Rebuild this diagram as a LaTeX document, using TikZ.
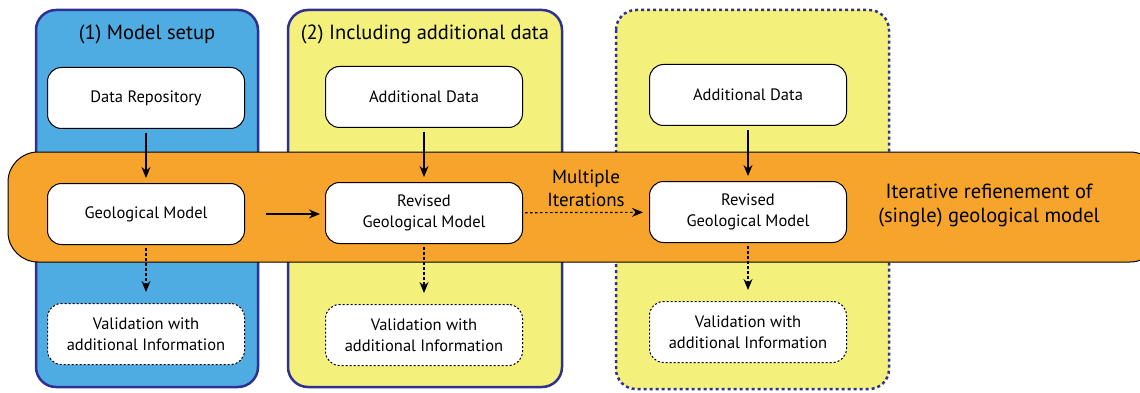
\documentclass[tikz,border=0pt]{standalone}
\usepackage{fontspec}
\setmainfont{PT Sans}
\usetikzlibrary{arrows.meta}
\definecolor{cblue}{HTML}{4EACE2}
\definecolor{cnavy}{HTML}{2E3192}
\definecolor{cyel}{HTML}{F3F07C}
\definecolor{corange}{HTML}{F6A42C}
\tikzset{
  colbox/.style={draw=cnavy, line width=2.5pt, rounded corners=20pt},
  band/.style={draw=black, line width=1pt, fill=corange, rounded corners=30pt},
  box/.style={draw=black, line width=1pt, fill=white, rounded corners=14pt,
    minimum width=197pt, minimum height=61pt, align=center, font=\fontsize{16.5}{21}\selectfont},
  dbox/.style={box, dash pattern=on 2pt off 2pt},
  arr/.style={line width=1.2pt, arrows={-{Stealth[length=11pt,width=9pt]}}},
  darr/.style={arr, dash pattern=on 2.5pt off 2.5pt},
  title/.style={font=\fontsize{20.5}{24}\selectfont},
}
\begin{document}
\begin{tikzpicture}[x=1pt,y=-1pt]
\useasboundingbox (0,0) rectangle (1140,393);
% column boxes
\draw[colbox, fill=cblue] (36,10) rectangle (258,387);
\draw[colbox, fill=cyel] (288,10) rectangle (562,387);
\draw[colbox, fill=cyel, dash pattern=on 3pt off 3pt] (616,10) rectangle (889,389);
\node[title] (t1) at (147,34) {(1) Model setup};
\node[title] (t2) at (425,34) {(2) Including additional data};
% band
\draw[band] (8,152) rectangle (1160,262);
\node[font=\fontsize{20.5}{24}\selectfont, align=center] (iter) at (989,205) {Iterative refienement of\\(single) geological model};
% nodes
\node[box] (dr) at (146,98) {Data Repository};
\node[box] (gm) at (146,214) {Geological Model};
\node[dbox] (v1) at (146,334) {Validation with\\additional Information};
\node[box] (ad2) at (424,97) {Additional Data};
\node[box] (rg2) at (424,213) {Revised\\Geological Model};
\node[dbox] (v2) at (424,335) {Validation with\\additional Information};
\node[box] (ad3) at (748,95) {Additional Data};
\node[box] (rg3) at (748,212) {Revised\\Geological Model};
\node[dbox] (v3) at (748,332) {Validation with\\additional Information};
% arrows
\draw[arr, shorten <=4pt, shorten >=5pt] (dr) -- (gm);
\draw[arr, shorten <=4pt, shorten >=5pt] (ad2) -- (rg2);
\draw[arr, shorten <=4pt, shorten >=5pt] (ad3) -- (rg3);
\draw[darr, shorten <=3pt, shorten >=11pt] (gm) -- (v1);
\draw[darr, shorten <=3pt, shorten >=11pt] (rg2) -- (v2);
\draw[darr, shorten <=3pt, shorten >=11pt] (rg3) -- (v3);
\draw[arr, shorten <=21pt, shorten >=5pt] (gm.east) -- (gm.east -| rg2.west);
\draw[darr, shorten <=2pt, shorten >=6pt] (rg2) -- node[above=2pt, font=\fontsize{19}{23}\selectfont, align=center] (mi) {Multiple\\Iterations} (rg3);
\end{tikzpicture}
\end{document}
